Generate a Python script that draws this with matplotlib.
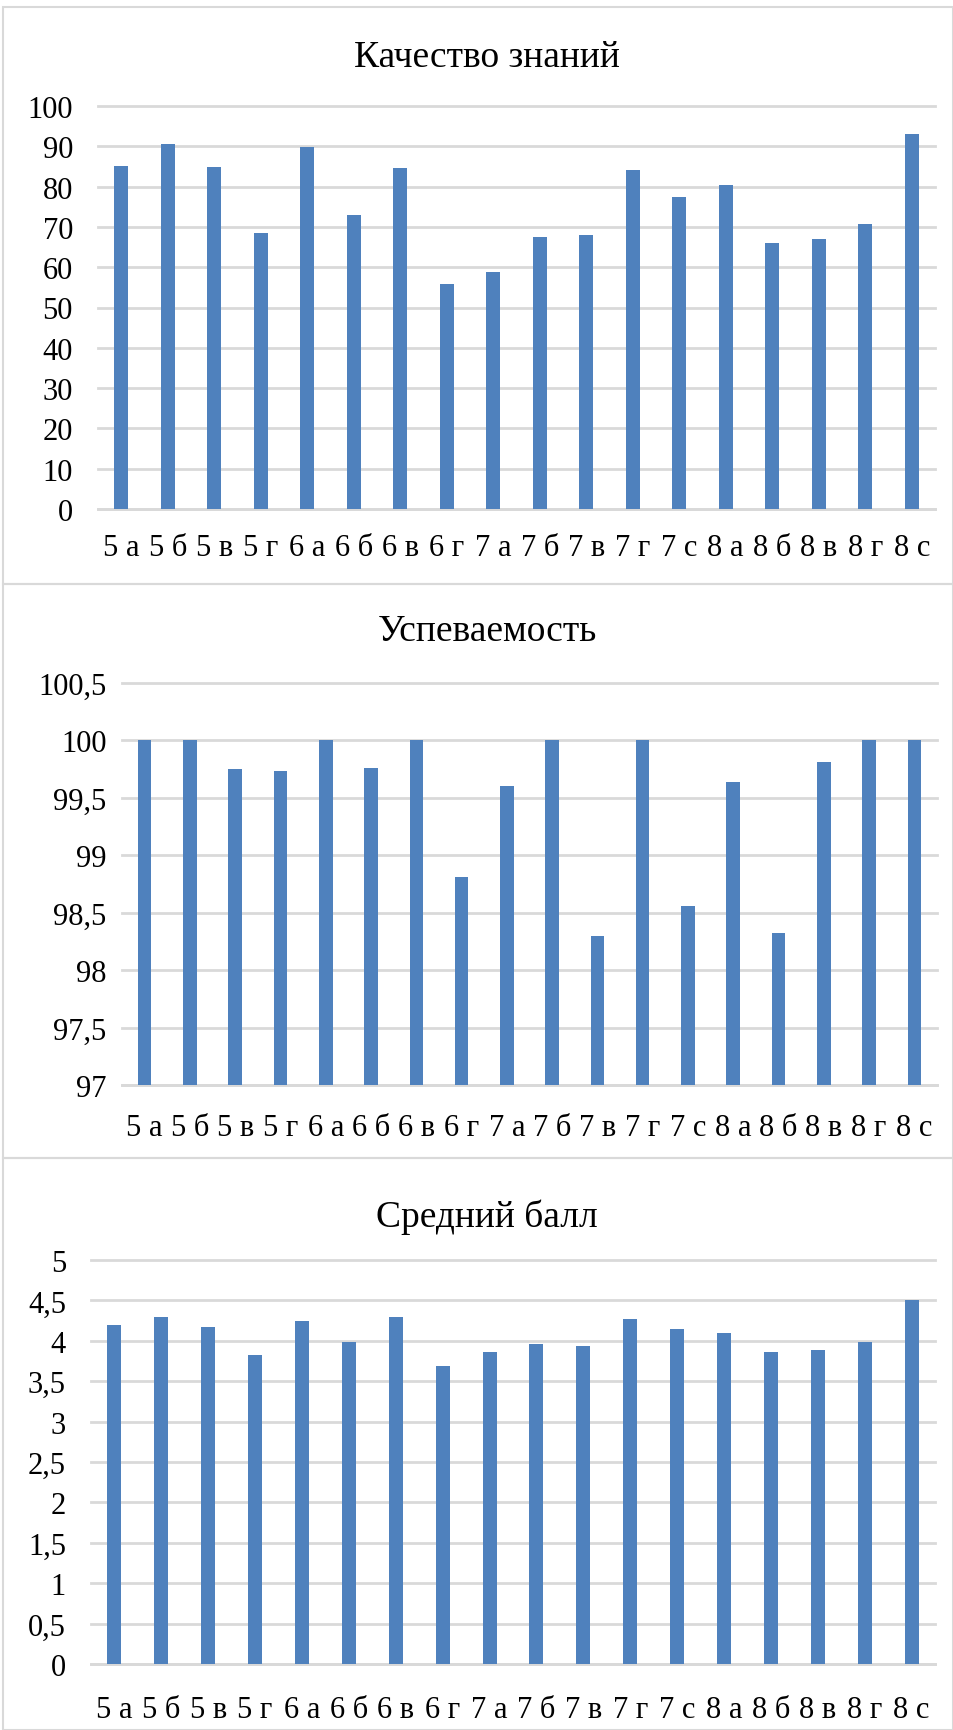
import matplotlib.pyplot as plt
import matplotlib.patches as mpatches
from matplotlib.ticker import FuncFormatter

plt.rcParams['font.family'] = ['Liberation Serif', 'DejaVu Serif']

classes = ['5 а', '5 б', '5 в', '5 г', '6 а', '6 б', '6 в', '6 г', '7 а',
           '7 б', '7 в', '7 г', '7 с', '8 а', '8 б', '8 в', '8 г', '8 с']

quality = [85.1, 90.5, 84.8, 68.5, 89.9, 73.0, 84.6, 55.8, 58.9,
           67.5, 68.1, 84.0, 77.3, 80.4, 65.9, 67.1, 70.7, 93.1]

progress = [100, 100, 99.75, 99.73, 100, 99.76, 100, 98.81, 99.60,
            100, 98.30, 100, 98.56, 99.64, 98.32, 99.81, 100, 100]

avg_score = [4.19, 4.30, 4.17, 3.83, 4.25, 3.98, 4.29, 3.69, 3.86,
             3.96, 3.94, 4.27, 4.14, 4.10, 3.86, 3.89, 3.98, 4.51]

titles = ['Качество знаний', 'Успеваемость', 'Средний балл']
yticks_quality = [0, 10, 20, 30, 40, 50, 60, 70, 80, 90, 100]
yticks_progress = [97, 97.5, 98, 98.5, 99, 99.5, 100, 100.5]
yticks_avg = [0, 0.5, 1, 1.5, 2, 2.5, 3, 3.5, 4, 4.5, 5]

W, H = 954, 1731
BAR = '#4F81BD'
GRID = '#D9D9D9'

fig = plt.figure(figsize=(W / 100, H / 100), dpi=100)


def comma(v, pos):
    return f'{v:g}'.replace('.', ',')


def panel(box, axbox, title_y, title, values, yticks, ypad, xpad):
    # panel frame (pixel coords, top-left origin)
    x0, y0, x1, y1 = box
    fig.patches.append(mpatches.Rectangle((x0 / W, 1 - y1 / H), (x1 - x0) / W, (y1 - y0) / H,
                                          transform=fig.transFigure, fill=False,
                                          edgecolor=GRID, linewidth=1.5))
    l, t, r, b = axbox
    ax = fig.add_axes([l / W, 1 - b / H, (r - l) / W, (b - t) / H])
    ax.bar(range(len(classes)), values, width=0.3, color=BAR, zorder=3)
    ax.set_xlim(-0.5, len(classes) - 0.5)
    ax.set_ylim(yticks[0], yticks[-1])
    ax.set_yticks(yticks)
    ax.yaxis.set_major_formatter(FuncFormatter(comma))
    ax.set_xticks(range(len(classes)))
    ax.set_xticklabels(classes)
    ax.grid(axis='y', color=GRID, linewidth=2, zorder=0)
    for s in ['top', 'right', 'left']:
        ax.spines[s].set_visible(False)
    ax.spines['bottom'].set_color(GRID)
    ax.spines['bottom'].set_linewidth(2)
    ax.tick_params(axis='both', length=0, labelsize=22)
    ax.tick_params(axis='y', pad=ypad)
    ax.tick_params(axis='x', pad=xpad)
    for gl in ax.get_ygridlines():
        gl.set_clip_on(False)
    fig.text(487 / W, 1 - title_y / H, title, ha='center', va='center', fontsize=27)
    return ax


panel((3, 8, 953, 585), (98, 107, 935, 510), 58, titles[0], quality, yticks_quality, 18, 17)
panel((3, 585, 953, 1159), (122, 684, 937, 1086), 632, titles[1], progress, yticks_progress, 11, 20)
panel((3, 1159, 953, 1731), (91, 1261, 935, 1665), 1217, titles[2], avg_score, yticks_avg, 18, 22)

fig.savefig('out.png', dpi=100, facecolor='white')
